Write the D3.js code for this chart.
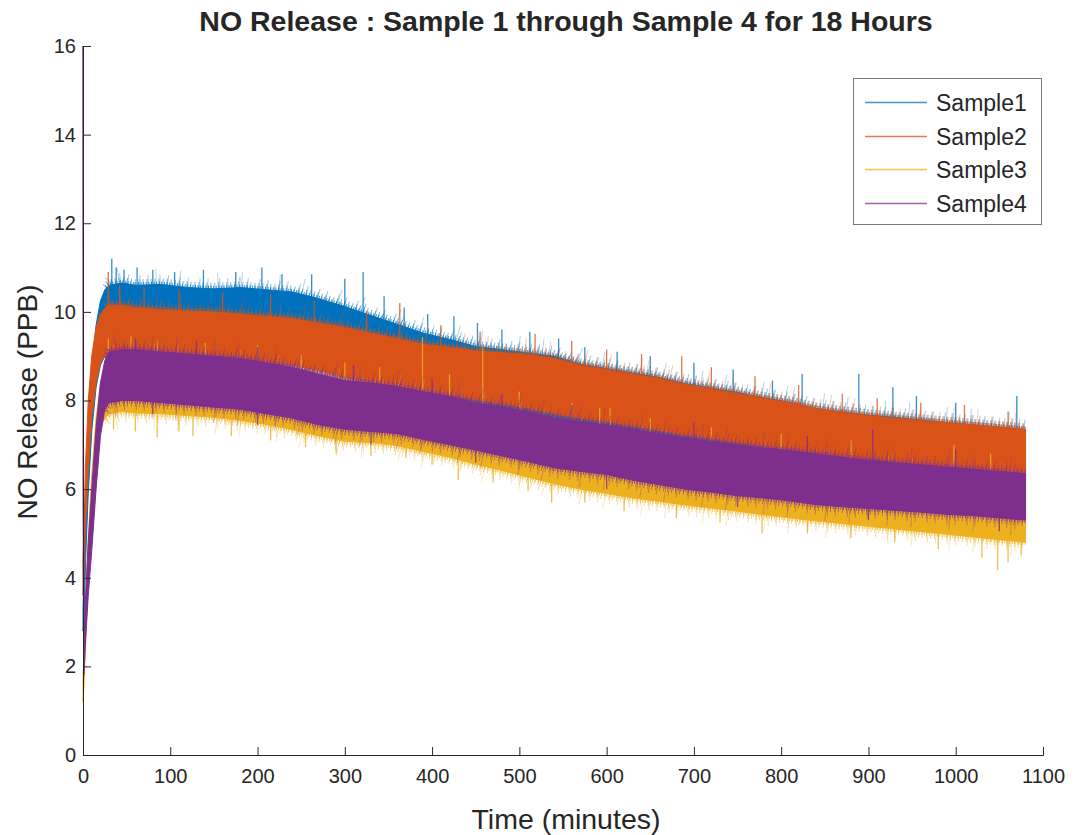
<!DOCTYPE html>
<html><head><meta charset="utf-8">
<script src="https://cdn.jsdelivr.net/npm/d3@7"></script>
<style>
html,body{margin:0;padding:0;background:#fff;}
svg{display:block;}
text{font-family:"Liberation Sans",Arial,Helvetica,sans-serif;fill:#262626;}
</style></head>
<body>
<svg id="chart" width="1077" height="835"></svg>
<script>
// ---- data ----
const title = "NO Release : Sample 1 through Sample 4 for 18 Hours";
const xLabel = "Time (minutes)";
const yLabel = "NO Release (PPB)";
const seriesNames = ["Sample1","Sample2","Sample3","Sample4"];
const seriesColors = ["#0072BD","#D95319","#EDB120","#7E2F8E"];
const xTicks = [0,100,200,300,400,500,600,700,800,900,1000,1100];
const yTicks = [0,2,4,6,8,10,12,14,16];

// sample times (minutes) at which the noise band edges were read
const times = [0,1,3,6,10,15,20,25,30,45,60,90,120,150,180,210,240,270,300,330,360,390,420,450,480,510,540,570,600,630,660,690,720,750,780,810,840,870,900,930,960,990,1020,1050,1080];

const s1Hi = [3.3,3.9,5.6,7.3,8.7,9.7,10.25,10.5,10.6,10.65,10.6,10.62,10.55,10.52,10.55,10.5,10.45,10.3,10.12,9.92,9.72,9.52,9.38,9.22,9.15,9.07,9.0,8.82,8.72,8.62,8.52,8.38,8.28,8.18,8.06,7.96,7.82,7.74,7.67,7.62,7.56,7.5,7.45,7.4,7.34];
const s1Lo = [2.8,3.0,4.4,5.9,7.3,8.3,8.8,9.0,9.1,9.15,9.1,9.05,9.0,8.95,8.9,8.85,8.8,8.7,8.55,8.42,8.28,8.12,8.0,7.85,7.68,7.58,7.44,7.3,7.22,7.14,7.05,6.95,6.86,6.8,6.72,6.65,6.56,6.5,6.45,6.4,6.35,6.3,6.26,6.2,6.16];
const s2Hi = [4.4,5.0,6.6,8.0,9.0,9.65,9.95,10.08,10.15,10.15,10.1,10.05,10.02,10.0,9.95,9.9,9.85,9.75,9.65,9.52,9.4,9.27,9.2,9.12,9.08,9.04,8.95,8.8,8.7,8.6,8.5,8.36,8.26,8.16,8.05,7.95,7.82,7.73,7.66,7.6,7.55,7.5,7.45,7.4,7.35];
const s2Lo = [3.6,4.0,5.2,6.4,7.6,8.4,8.85,9.0,9.05,9.05,9.05,9.05,9.0,8.95,8.9,8.85,8.8,8.68,8.52,8.42,8.32,8.22,8.12,8.02,7.92,7.82,7.7,7.6,7.52,7.42,7.32,7.22,7.13,7.04,6.96,6.89,6.8,6.73,6.67,6.61,6.54,6.48,6.43,6.37,6.32];
const s3Hi = [1.8,2.3,3.4,4.9,6.3,7.6,8.4,8.7,8.85,8.95,8.95,8.92,8.9,8.86,8.8,8.72,8.6,8.46,8.34,8.3,8.24,8.1,7.98,7.82,7.68,7.54,7.4,7.28,7.18,7.08,7.0,6.92,6.85,6.78,6.7,6.63,6.56,6.5,6.44,6.38,6.32,6.26,6.2,6.14,6.08];
const s3Lo = [1.2,1.5,2.5,3.9,5.3,6.7,7.4,7.6,7.7,7.75,7.72,7.7,7.66,7.62,7.55,7.46,7.34,7.2,7.08,7.05,6.98,6.85,6.72,6.56,6.42,6.27,6.12,6.0,5.9,5.8,5.72,5.64,5.57,5.5,5.42,5.35,5.28,5.22,5.16,5.1,5.04,4.98,4.92,4.86,4.8];
const s4Hi = [16.0,2.6,3.6,4.8,6.0,7.4,8.4,8.9,9.1,9.15,9.15,9.1,9.05,9.0,8.95,8.85,8.75,8.6,8.45,8.4,8.32,8.2,8.1,7.95,7.85,7.75,7.6,7.52,7.45,7.35,7.25,7.15,7.08,7.0,6.93,6.87,6.8,6.72,6.66,6.6,6.55,6.5,6.45,6.4,6.35];
const s4Lo = [6.0,1.8,2.6,3.6,4.6,6.0,7.2,7.8,7.95,8.0,8.0,7.95,7.9,7.85,7.8,7.7,7.6,7.45,7.35,7.3,7.25,7.12,7.0,6.88,6.75,6.62,6.48,6.4,6.33,6.2,6.1,6.0,5.93,5.85,5.8,5.73,5.65,5.6,5.56,5.52,5.48,5.43,5.4,5.35,5.3];

// isolated spikes [time, value]
const s1Up = [[33,11.2],[38,11.0],[47,10.95],[62,11.0],[80,10.95],[105,10.9],[138,10.95],[175,10.9],[205,11.0],[228,10.85],[262,10.85],[300,10.75],[321,10.9],[345,10.35],[368,10.1],[395,9.95],[425,9.9],[452,9.75],[480,9.6],[512,9.55],[545,9.4],[575,9.2],[612,9.1],[650,9.0],[700,8.85],[745,8.7],[790,8.45],[824,8.6],[889,8.6],[928,8.3],[955,8.1],[1000,7.95],[1070,8.1]];
const s1Down = [[500,7.45],[530,7.3],[560,7.2],[590,7.05],[620,7.0],[650,6.95]];
const s2Up = [[29,10.9],[42,10.6],[70,10.55],[110,10.5],[160,10.45],[215,10.4],[265,10.25],[325,10.0],[363,10.2],[410,9.7],[455,9.55],[518,9.5],[560,9.35],[600,9.15],[640,9.05],[686,9.0],[720,8.75],[770,8.55],[820,8.35],[870,8.15],[910,8.05],[960,7.95],[1010,7.9],[1060,7.75]];
const s2Down = [];
const s3Up = [[29,9.4],[55,9.45],[85,9.35],[140,9.3],[200,9.25],[250,9.05],[300,8.85],[340,8.75],[389,9.43],[420,8.6],[458,9.2],[500,8.2],[560,7.95],[592,7.83],[604,7.83],[650,7.6],[720,7.4],[800,7.25],[880,7.1],[998,7.0],[1040,6.8]];
const s3Down = [[35,7.35],[60,7.3],[85,7.17],[110,7.3],[126,7.2],[170,7.2],[215,7.1],[255,6.95],[290,6.8],[330,6.75],[370,6.7],[400,6.55],[430,6.2],[470,6.15],[510,5.95],[537,5.7],[575,5.7],[620,5.5],[680,5.35],[730,5.25],[778,5.0],[830,5.0],[880,4.9],[930,4.8],[980,4.65],[1030,4.45],[1048,4.17],[1060,4.35],[1075,4.5]];
const s4Up = [[60,9.4],[130,9.35],[200,9.2],[310,8.8],[400,8.5],[480,8.15],[560,7.9],[700,7.5],[830,7.2],[905,7.35],[1000,6.9]];
const s4Down = [[80,7.7],[200,7.45],[330,7.0],[450,6.6],[600,6.0],[750,5.6],[900,5.3],[1050,5.05]];

const his = [s1Hi,s2Hi,s3Hi,s4Hi];
const los = [s1Lo,s2Lo,s3Lo,s4Lo];
const ups = [s1Up,s2Up,s3Up,s4Up];
const downs = [s1Down,s2Down,s3Down,s4Down];

// ---- layout ----
const plot = {left:83, right:1043, top:46, bottom:755};
const svg = d3.select("#chart");
const x = d3.scaleLinear().domain([0,1100]).range([plot.left, plot.right]);
const y = d3.scaleLinear().domain([0,16]).range([plot.bottom, plot.top]);

const g = svg.append("g");

seriesNames.forEach((name, i) => {
  const color = seriesColors[i];
  const pts = times.map((t, k) => ({t, lo: los[i][k], hi: his[i][k]}));
  const area = d3.area().x(d => x(d.t)).y0(d => y(d.lo)).y1(d => y(d.hi));
  g.append("path").attr("d", area(pts)).attr("fill", color).attr("stroke", color).attr("stroke-width", 1);

  // fuzzy fringe along band edges (styling of the band edge)
  const fr = pts.filter(d => d.t >= 25);
  const hiLine = d3.line().x(d => x(d.t)).y(d => y(d.hi));
  const loLine = d3.line().x(d => x(d.t)).y(d => y(d.lo));
  const fringes = [[6,"1 3",0.55,3,0],[3,"1 1.6",0.8,1.5,1],[10,"1 7 1 11",0.4,5,3],[16,"1 23 1 37",0.3,8,9]];
  fringes.forEach(([w,dash,op,off,doff]) => {
    g.append("path").attr("d", hiLine(fr)).attr("fill","none").attr("stroke", color)
      .attr("stroke-width", w).attr("stroke-dasharray", dash).attr("opacity", op)
      .attr("stroke-dashoffset", doff).attr("transform", `translate(0,${-off})`);
    g.append("path").attr("d", loLine(fr)).attr("fill","none").attr("stroke", color)
      .attr("stroke-width", w).attr("stroke-dasharray", dash).attr("opacity", op)
      .attr("transform", `translate(0,${off})`).attr("stroke-dashoffset", doff + 2);
  });

  const hiAt = d3.scaleLinear().domain(times).range(his[i]);
  const loAt = d3.scaleLinear().domain(times).range(los[i]);
  ups[i].forEach(([t, v]) => {
    g.append("line").attr("x1", x(t)).attr("x2", x(t)).attr("y1", y(hiAt(t))).attr("y2", y(v))
      .attr("stroke", color).attr("stroke-width", 1.3).attr("opacity", 0.8);
  });
  downs[i].forEach(([t, v]) => {
    g.append("line").attr("x1", x(t)).attr("x2", x(t)).attr("y1", y(loAt(t))).attr("y2", y(v))
      .attr("stroke", color).attr("stroke-width", 1.3).attr("opacity", 0.8);
  });
});

// ---- axes (MATLAB style, ticks inward, no box) ----
const axisColor = "#262626";
const xAxis = d3.axisBottom(x).tickValues(xTicks).tickSize(-8).tickPadding(14).tickFormat(d3.format("d"));
const yAxis = d3.axisLeft(y).tickValues(yTicks).tickSize(-8).tickPadding(7).tickFormat(d3.format("d"));
const gx = svg.append("g").attr("transform", `translate(0,${plot.bottom})`).call(xAxis);
const gy = svg.append("g").attr("transform", `translate(${plot.left},0)`).call(yAxis);
[gx, gy].forEach(a => {
  a.select(".domain").attr("stroke", axisColor).attr("stroke-width", 1);
  a.selectAll(".tick line").attr("stroke", axisColor).attr("stroke-width", 1);
  a.selectAll(".tick text").attr("fill", axisColor).style("font-size", "20px")
    .style("font-family", '"Liberation Sans", Arial, Helvetica, sans-serif');
});

// labels
svg.append("text").attr("x", 566).attr("y", 31)
  .attr("text-anchor","middle").style("font-size","28.5px").style("font-weight","bold").attr("fill","#000").text(title);
svg.append("text").attr("x", 566).attr("y", 829)
  .attr("text-anchor","middle").style("font-size","28.5px").text(xLabel);
svg.append("text").attr("transform", `translate(37,${402}) rotate(-90)`)
  .attr("text-anchor","middle").style("font-size","28px").text(yLabel);

// legend
const lg = svg.append("g");
lg.append("rect").attr("x", 853.5).attr("y", 78.5).attr("width", 188).attr("height", 146)
  .attr("fill", "#fff").attr("stroke", "#7a7a7a").attr("stroke-width", 1);
seriesNames.forEach((name, i) => {
  const yy = Math.round(102 + i * 33.5) + 0.5;
  lg.append("line").attr("x1", 865).attr("x2", 927).attr("y1", yy).attr("y2", yy)
    .attr("stroke", seriesColors[i]).attr("stroke-width", 1.6).attr("opacity", 0.75);
  lg.append("text").attr("x", 936).attr("y", yy).attr("dy", "0.36em")
    .style("font-size", "23px").attr("fill", "#000").text(name);
});
</script>
</body></html>
